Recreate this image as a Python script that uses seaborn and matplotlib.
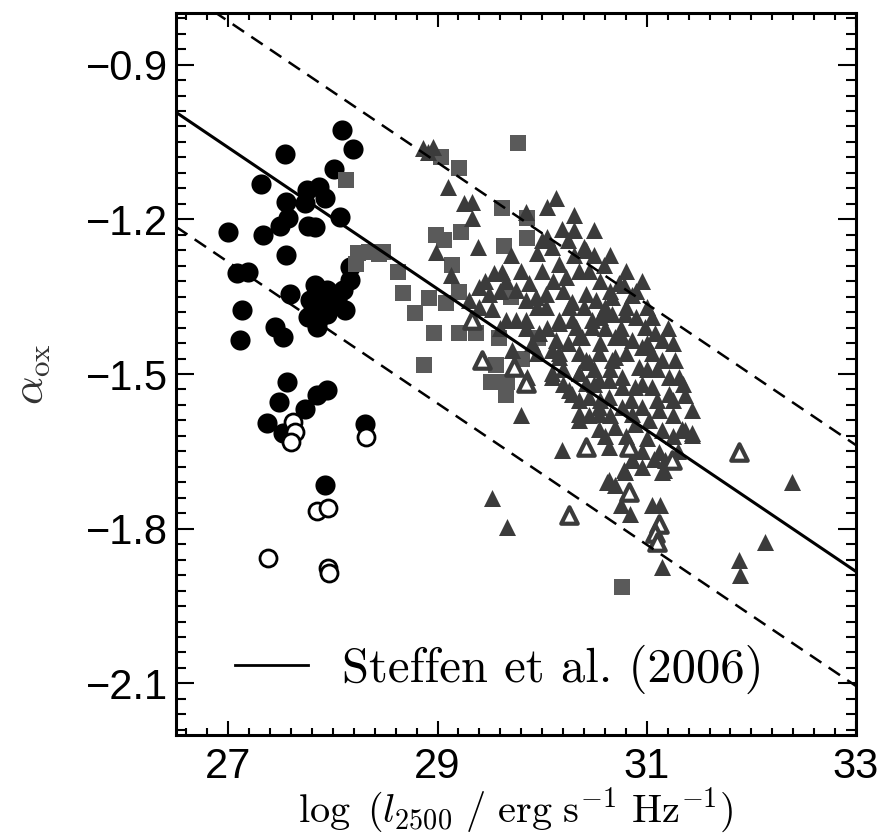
import numpy as np
import pandas as pd
import matplotlib
matplotlib.use("Agg")
import matplotlib.pyplot as plt
import seaborn as sns
from matplotlib.ticker import MultipleLocator

# ---------------- data ----------------
# filled black circles (low-luminosity sample)
circ_x = [28.09, 28.19, 27.543, 28.015, 27.316, 27.751, 27.871, 27.926, 27.553, 27.734,
          27.575, 27.495, 28.063, 27.0, 27.335, 27.766, 27.83, 27.553, 28.165, 28.165,
          28.101, 28.117, 27.081, 27.192, 27.591, 27.83, 27.942, 28.022,
          27.782, 27.846, 27.91, 27.974, 27.814, 27.766, 27.862, 27.942, 27.846, 28.038,
          27.129, 27.112, 27.447, 27.527, 27.559, 27.489, 27.734, 27.846, 27.942,
          27.368, 27.527, 28.309, 27.926]
circ_y = [-1.026, -1.064, -1.074, -1.103, -1.132, -1.143, -1.138, -1.159, -1.167, -1.169,
          -1.198, -1.213, -1.196, -1.224, -1.231, -1.213, -1.215, -1.269, -1.292, -1.318,
          -1.337, -1.376, -1.305, -1.302, -1.344, -1.328, -1.337, -1.350,
          -1.357, -1.363, -1.357, -1.370, -1.376, -1.389, -1.396, -1.383, -1.409, -1.357,
          -1.376, -1.434, -1.409, -1.429, -1.515, -1.554, -1.567, -1.541, -1.531,
          -1.595, -1.615, -1.596, -1.716]

# open circles (upper limits)
ocirc_x = [27.623, 27.639, 27.598, 28.318, 27.846, 27.957, 27.383, 27.957, 27.964]
ocirc_y = [-1.593, -1.612, -1.632, -1.623, -1.765, -1.760, -1.857, -1.877, -1.886]

# grey squares
sq_x = [29.773, 29.033, 29.201, 29.62, 29.858, 29.858, 29.224, 28.985, 29.064, 29.636,
        28.476, 28.619, 29.143, 28.673, 28.921, 29.081, 29.207, 28.788, 28.969, 29.201,
        29.367, 29.589, 29.7, 29.963, 28.874, 29.557, 29.51, 29.668, 29.653, 29.811,
        28.127, 28.238, 28.349, 28.445, 28.222, 30.764]
sq_y = [-1.052, -1.079, -1.101, -1.179, -1.198, -1.237, -1.224, -1.231, -1.240, -1.252,
        -1.263, -1.302, -1.289, -1.343, -1.353, -1.362, -1.341, -1.381, -1.420, -1.420,
        -1.420, -1.431, -1.350, -1.431, -1.483, -1.483, -1.515, -1.515, -1.541, -1.470,
        -1.124, -1.266, -1.263, -1.268, -1.286, -1.913]

# dark grey filled triangles
tri_x = [28.858, 28.953, 28.905, 29.096, 29.255, 29.334, 29.334, 30.129, 30.049, 30.304,
         29.843, 30.192, 28.985, 29.382, 30.049, 29.954, 30.415, 30.59, 29.541, 29.62,
         30.161, 30.225, 29.128, 29.398, 29.493, 29.303, 29.875, 29.748, 29.843, 29.939,
         30.034, 30.415, 30.287, 30.51, 30.733, 29.525, 29.653, 29.748, 29.843, 30.034,
         30.161, 30.287, 30.478, 30.669, 29.97, 29.715, 30.097, 30.161, 30.351, 30.415,
         30.542, 30.669, 30.764, 29.858, 30.097, 30.351, 30.415, 30.637, 30.287, 30.351,
         30.542, 30.764, 29.796,
         30.399, 30.097, 30.78, 30.859, 30.256, 30.669, 30.606, 30.796, 30.987, 31.082,
         31.145, 30.161, 30.32, 30.478, 30.383, 30.129, 30.701, 30.859, 30.955, 30.161,
         30.447, 30.701, 31.145, 31.273, 31.209, 31.305, 30.923, 30.097, 30.351, 30.542,
         30.764, 30.892, 31.05, 31.209, 31.368, 30.256, 30.447, 30.637, 30.764, 30.955,
         31.114, 31.431, 30.351, 30.542, 30.859, 30.351, 30.542, 30.701, 30.892, 31.019,
         31.145, 31.336, 31.431, 31.002, 30.192, 30.637, 31.114, 30.859, 31.145, 30.796,
         30.621, 30.701, 30.749, 30.844, 31.05, 31.13, 32.385, 32.131, 31.877, 31.145,
         31.893, 30.78, 31.162, 31.178, 31.368, 31.431, 30.859, 31.066, 30.637,
         29.665, 29.52,
         30.3, 30.5, 30.0, 30.25, 29.7, 30.3, 30.5, 30.65, 29.8, 30.0,
         30.35, 30.45, 30.8, 29.45, 29.65, 30.1, 30.55, 30.95, 29.6, 30.2,
         30.65, 30.9, 29.4, 29.95, 30.4, 30.6, 30.8, 31.0, 30.55, 30.9,
         31.05, 29.6, 29.85, 30.05, 30.6, 30.75, 31.2, 29.9, 30.25, 30.55,
         31.0, 31.25, 29.95, 30.35, 30.8, 31.05, 30.2, 30.5, 30.65, 31.0,
         31.1, 30.2, 30.5, 30.95, 31.35, 30.55, 30.85, 31.1, 31.25, 30.45,
         30.65, 31.25, 30.6, 30.8, 31.25, 30.95, 31.3, 30.95]
tri_y = [-1.062, -1.059, -1.069, -1.137, -1.169, -1.166, -1.198, -1.159, -1.176, -1.192,
         -1.185, -1.218, -1.263, -1.253, -1.234, -1.266, -1.260, -1.289, -1.305, -1.302,
         -1.286, -1.312, -1.308, -1.331, -1.344, -1.357, -1.324, -1.337, -1.357, -1.350,
         -1.344, -1.344, -1.360, -1.357, -1.324, -1.373, -1.396, -1.396, -1.396, -1.370,
         -1.396, -1.396, -1.396, -1.383, -1.421, -1.454, -1.454, -1.467, -1.428, -1.473,
         -1.460, -1.473, -1.428, -1.506, -1.506, -1.499, -1.518, -1.512, -1.538, -1.551,
         -1.564, -1.525, -1.580,
         -1.253, -1.253, -1.328, -1.347, -1.370, -1.350, -1.383, -1.383, -1.409, -1.421,
         -1.434, -1.402, -1.409, -1.409, -1.428, -1.434, -1.428, -1.434, -1.447, -1.460,
         -1.476, -1.467, -1.473, -1.473, -1.506, -1.506, -1.486, -1.499, -1.499, -1.512,
         -1.506, -1.525, -1.525, -1.538, -1.541, -1.531, -1.544, -1.544, -1.564, -1.564,
         -1.570, -1.570, -1.577, -1.577, -1.577, -1.590, -1.606, -1.603, -1.596, -1.590,
         -1.609, -1.606, -1.619, -1.625, -1.648, -1.641, -1.651, -1.667, -1.690, -1.690,
         -1.709, -1.716, -1.754, -1.771, -1.754, -1.754, -1.709, -1.826, -1.861, -1.874,
         -1.890, -1.687, -1.687, -1.667, -1.609, -1.615, -1.664, -1.664, -1.706,
         -1.797, -1.740,
         -1.22, -1.22, -1.24, -1.24, -1.27, -1.27, -1.27, -1.27, -1.30, -1.30,
         -1.30, -1.30, -1.30, -1.32, -1.32, -1.32, -1.32, -1.32, -1.34, -1.34,
         -1.34, -1.34, -1.37, -1.37, -1.37, -1.37, -1.37, -1.37, -1.39, -1.39,
         -1.39, -1.41, -1.41, -1.41, -1.41, -1.41, -1.41, -1.44, -1.44, -1.44,
         -1.44, -1.44, -1.46, -1.46, -1.46, -1.46, -1.49, -1.49, -1.49, -1.49,
         -1.49, -1.52, -1.52, -1.52, -1.52, -1.55, -1.55, -1.55, -1.55, -1.58,
         -1.58, -1.58, -1.62, -1.62, -1.62, -1.65, -1.65, -1.68]

# open triangles
otri_x = [29.334, 29.429, 29.732, 29.843, 30.415, 30.828, 31.241, 30.828, 31.877,
          30.256, 31.114, 31.082, 31.098]
otri_y = [-1.396, -1.473, -1.486, -1.518, -1.641, -1.641, -1.667, -1.729, -1.651,
          -1.774, -1.790, -1.809, -1.826]

# Steffen et al. (2006) relation and dispersion envelope
line_x = [26.5, 33.0]
rel_slope = -0.137
rel_intercept = 2.638
env_offsets = [0.245, -0.222]

# ---------------- figure ----------------
plt.rcParams['font.family'] = ['Liberation Sans', 'DejaVu Sans']
plt.rcParams['mathtext.fontset'] = 'cm'
plt.rcParams['axes.unicode_minus'] = True

fig = plt.figure(figsize=(8.84, 8.38), dpi=100)
ax = fig.add_axes([176 / 884, 1 - 735 / 838, (856 - 176) / 884, (735 - 13) / 838])

lx = np.array(line_x)
lines = pd.DataFrame({'x': lx, 'y': rel_slope * lx + rel_intercept})
sns.lineplot(data=lines, x='x', y='y', color='black', lw=2.2, ax=ax,
             label='Steffen et al. (2006)', zorder=5)
for off in env_offsets:
    d = pd.DataFrame({'x': lx, 'y': rel_slope * lx + rel_intercept + off})
    sns.lineplot(data=d, x='x', y='y', color='black', lw=1.8, ax=ax,
                 zorder=5, legend=False).lines[-1].set_dashes([5.5, 3.5])

df_c = pd.DataFrame({'x': circ_x, 'y': circ_y})
df_oc = pd.DataFrame({'x': ocirc_x, 'y': ocirc_y})
df_s = pd.DataFrame({'x': sq_x, 'y': sq_y})
df_t = pd.DataFrame({'x': tri_x, 'y': tri_y})
df_ot = pd.DataFrame({'x': otri_x, 'y': otri_y})

sns.scatterplot(data=df_c, x='x', y='y', marker='o', s=210, color='black',
                edgecolor='black', linewidth=0, ax=ax, zorder=3)
sns.scatterplot(data=df_oc, x='x', y='y', marker='o', s=150, color='white',
                edgecolor='black', linewidth=2.0, ax=ax, zorder=3)
sns.scatterplot(data=df_s, x='x', y='y', marker='s', s=140, color='#5a5a5a',
                edgecolor='#5a5a5a', linewidth=0, ax=ax, zorder=3)
sns.scatterplot(data=df_t, x='x', y='y', marker='^', s=150, color='#3b3b3b',
                edgecolor='#3b3b3b', linewidth=0, ax=ax, zorder=3)
sns.scatterplot(data=df_ot, x='x', y='y', marker='^', s=140, color='white',
                edgecolor='#3b3b3b', linewidth=3.0, ax=ax, zorder=3)

ax.set_xlim(26.5, 33.0)
ax.set_ylim(-2.2, -0.8)
ax.xaxis.set_minor_locator(MultipleLocator(0.2))
ax.yaxis.set_minor_locator(MultipleLocator(0.03))
ax.set_xticks([27, 29, 31, 33])
ax.set_yticks([-0.9, -1.2, -1.5, -1.8, -2.1])
ax.set_yticklabels(['\u22120.9', '\u22121.2', '\u22121.5', '\u22121.8', '\u22122.1'])

ax.tick_params(which='both', direction='in', top=True, right=True, width=1.5,
               labelsize=30, colors='black')
ax.tick_params(axis='x', which='major', length=10, pad=9)
ax.tick_params(axis='x', which='minor', length=5)
ax.tick_params(axis='y', which='major', length=13, pad=6)
ax.tick_params(axis='y', which='minor', length=7)
for sp in ax.spines.values():
    sp.set_linewidth(2.2)

ax.set_xlabel(r'$\log\ (l_{2500}\ /\ \mathrm{erg\ s^{-1}\ Hz^{-1}})$', fontsize=29, labelpad=-1)
ax.set_ylabel(r'$\alpha_{\mathrm{ox}}$', fontsize=32, color='#333333', labelpad=24)

leg = ax.legend(loc='lower left', frameon=False, handlelength=1.5,
                bbox_to_anchor=(0.022, -0.004), handletextpad=0.7,
                prop={'family': 'cmr10', 'size': 35})
for h in leg.get_lines():
    h.set_linewidth(2)

fig.savefig('out.png', dpi=100)
